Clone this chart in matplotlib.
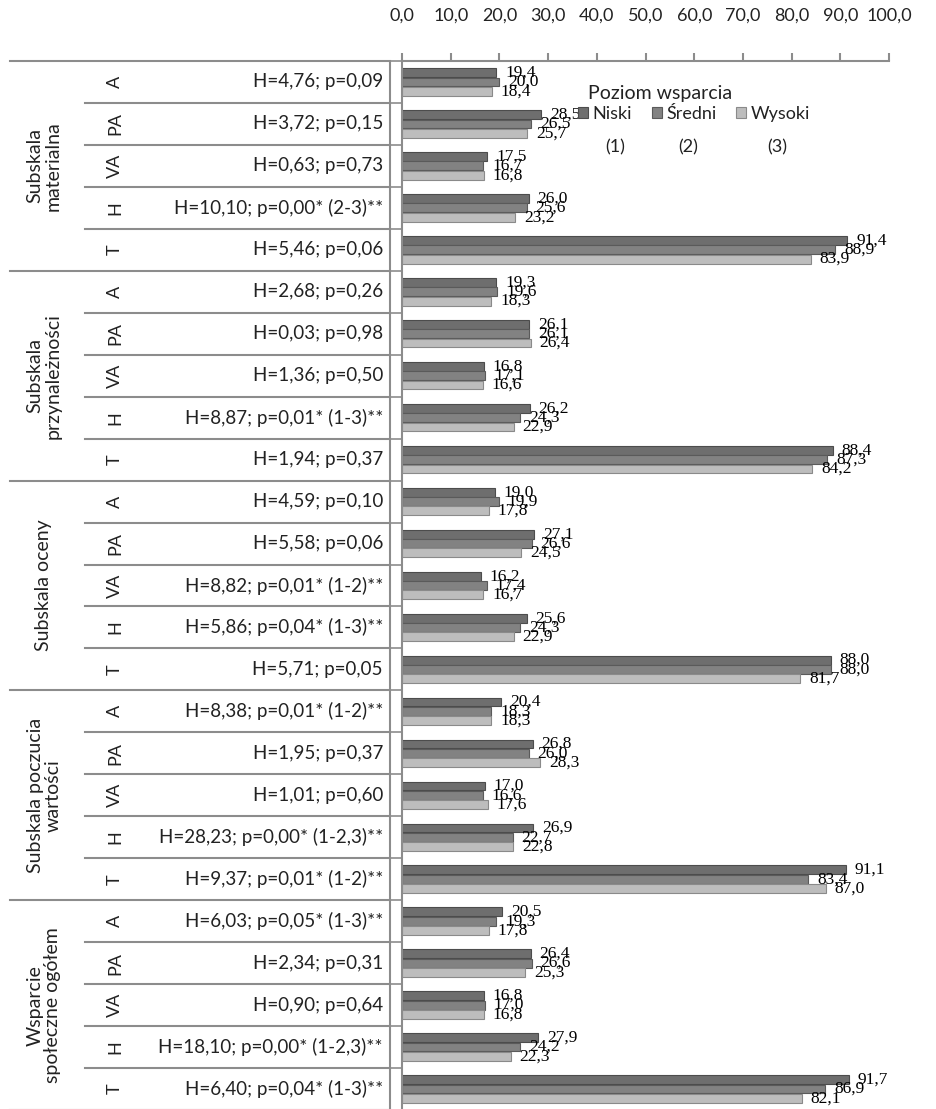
import matplotlib
matplotlib.use("Agg")
import matplotlib.pyplot as plt
import numpy as np
from matplotlib.transforms import blended_transform_factory

groups = ["Subskala\nmaterialna", "Subskala\nprzynależności", "Subskala oceny",
          "Subskala poczucia\nwartości", "Wsparcie\nspołeczne ogółem"]
codes = ["A", "PA", "VA", "H", "T"]
stats = [
    "H=4,76; p=0,09", "H=3,72; p=0,15", "H=0,63; p=0,73", "H=10,10; p=0,00* (2-3)**", "H=5,46; p=0,06",
    "H=2,68; p=0,26", "H=0,03; p=0,98", "H=1,36; p=0,50", "H=8,87; p=0,01* (1-3)**", "H=1,94; p=0,37",
    "H=4,59; p=0,10", "H=5,58; p=0,06", "H=8,82; p=0,01* (1-2)**", "H=5,86; p=0,04* (1-3)**", "H=5,71; p=0,05",
    "H=8,38; p=0,01* (1-2)**", "H=1,95; p=0,37", "H=1,01; p=0,60", "H=28,23; p=0,00* (1-2,3)**", "H=9,37; p=0,01* (1-2)**",
    "H=6,03; p=0,05* (1-3)**", "H=2,34; p=0,31", "H=0,90; p=0,64", "H=18,10; p=0,00* (1-2,3)**", "H=6,40; p=0,04* (1-3)**",
]
niski = [19.4, 28.5, 17.5, 26.0, 91.4,
         19.3, 26.1, 16.8, 26.2, 88.4,
         19.0, 27.1, 16.2, 25.6, 88.0,
         20.4, 26.8, 17.0, 26.9, 91.1,
         20.5, 26.4, 16.8, 27.9, 91.7]
sredni = [20.0, 26.5, 16.7, 25.6, 88.9,
          19.6, 26.1, 17.1, 24.3, 87.3,
          19.9, 26.6, 17.4, 24.3, 88.0,
          18.3, 26.0, 16.6, 22.7, 83.4,
          19.3, 26.6, 17.0, 24.2, 86.9]
wysoki = [18.4, 25.7, 16.8, 23.2, 83.9,
          18.3, 26.4, 16.6, 22.9, 84.2,
          17.8, 24.5, 16.7, 22.9, 81.7,
          18.3, 28.3, 17.6, 22.8, 87.0,
          17.8, 25.3, 16.8, 22.3, 82.1]
series_names = ["Niski", "Średni", "Wysoki"]
series_nums = ["(1)", "(2)", "(3)"]
legend_title = "Poziom wsparcia"
xticks = np.arange(0, 101, 10)

W, H = 936, 1109
SANS = ["Lato", "DejaVu Sans"]
SERIF = ["Liberation Serif", "DejaVu Serif"]
GRID = "#8c8c8c"
TXT = "#222222"

fig = plt.figure(figsize=(W / 100, H / 100), dpi=100)
ax = fig.add_axes([402 / W, -1 / H, (889 - 402) / W, 1049 / H])

n = len(niski)
y = np.arange(n)
off = 0.222
bh = 0.21
colors = ["#6e6e6e", "#828282", "#bdbdbd"]
edges = ["#4c4c4c", "#5a5a5a", "#8a8a8a"]
containers = []
for k, (vals, c, e) in enumerate(zip([niski, sredni, wysoki], colors, edges)):
    b = ax.barh(y + (k - 1) * off, vals, height=bh, color=c, edgecolor=e, linewidth=0.8)
    containers.append(b)
    for yi, v in zip(y, vals):
        ax.annotate(f"{v:.1f}".replace(".", ","), xy=(v, yi + (k - 1) * off), xytext=(6.5, 0),
                    textcoords="offset points", va="center", ha="left",
                    family=SERIF, fontsize=12.5, color="black")

ax.set_xlim(0, 100)
ax.set_ylim(n - 0.5, -0.5)
ax.xaxis.tick_top()
ax.set_xticks(xticks)
ax.set_xticklabels([f"{t:.1f}".replace(".", ",") for t in xticks], family=SANS, fontsize=13, color=TXT)
ax.tick_params(axis="x", direction="out", length=6, color=GRID, width=1.5, pad=21)
ax.set_yticks(np.arange(-0.5, n, 1.0))
ax.set_yticklabels([])
ax.tick_params(axis="y", direction="out", length=8, color=GRID, width=1.2)
for s in ["right", "bottom"]:
    ax.spines[s].set_visible(False)
for s in ["top", "left"]:
    ax.spines[s].set_color(GRID)
    ax.spines[s].set_linewidth(1.5)

# table at left
tr = blended_transform_factory(fig.transFigure, ax.transData)
for i in range(n + 1):
    yb = i - 0.5
    x0 = 10 / W if i % 5 == 0 else 85 / W
    ax.plot([x0, 390 / W], [yb, yb], transform=tr, color=GRID, lw=1.5, clip_on=False)
ax.plot([390 / W, 390 / W], [-0.45, n - 0.5], transform=tr, color=GRID, lw=1.5, clip_on=False)

for i in range(n):
    ax.text(115 / W, i, codes[i % 5], transform=tr, rotation=90, ha="center", va="center",
            family=SANS, fontsize=13, color=TXT)
    ax.text(383 / W, i, stats[i], transform=tr, ha="right", va="center",
            family=SANS, fontsize=13.5, color=TXT)
for g, name in enumerate(groups):
    ax.text(44 / W, g * 5 + 2, name, transform=tr, rotation=90, ha="center", va="center",
            multialignment="center", family=SANS, fontsize=14, color=TXT, linespacing=1.05)

leg = fig.legend(containers, series_names, ncol=3, frameon=False,
                 loc="upper left", bbox_to_anchor=(578 / W, 1 - 106 / H),
                 prop={"family": SANS, "size": 13}, labelcolor=TXT,
                 handlelength=0.55, handleheight=0.55, handletextpad=0.25, columnspacing=1.1,
                 borderpad=0, borderaxespad=0)
fig.text(588 / W, 1 - 93 / H, legend_title, ha="left", va="center", family=SANS, fontsize=14, color=TXT)
for xp, t in zip([615, 688, 777], series_nums):
    fig.text(xp / W, 1 - 147 / H, t, ha="center", va="center", family=SANS, fontsize=13, color=TXT)

fig.savefig("out.png", dpi=100)
